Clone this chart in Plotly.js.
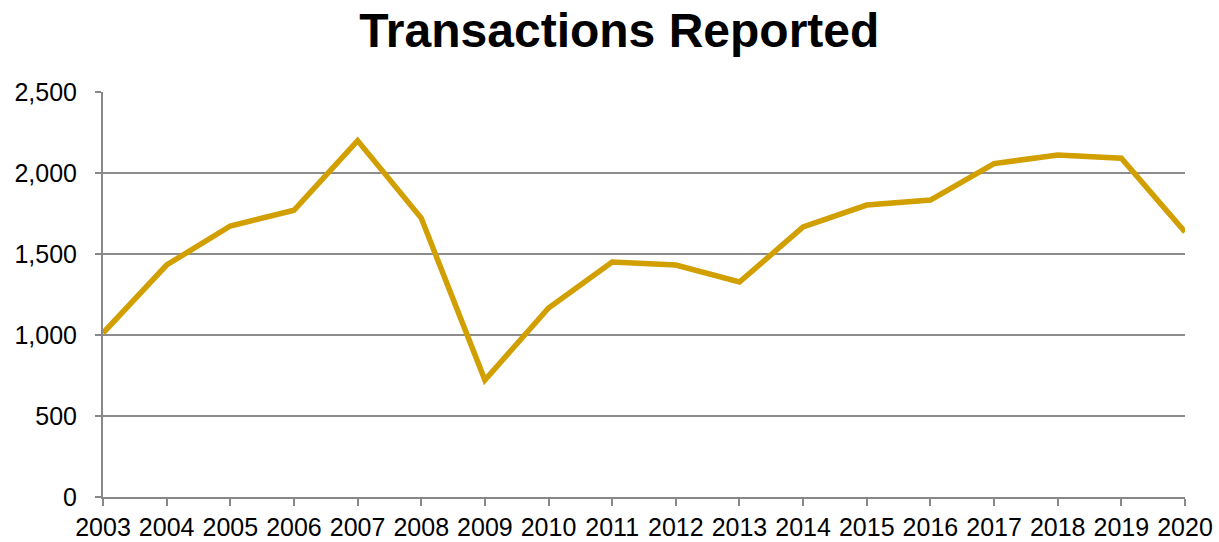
<!DOCTYPE html>
<html>
<head>
<meta charset="utf-8">
<script src="https://cdn.plot.ly/plotly-3.0.1.min.js"></script>
<style>html,body{margin:0;padding:0;background:#fff;}#chart{width:1219px;height:542px;}</style>
</head>
<body>
<div id="chart"></div>
<script>
const years = ['2003','2004','2005','2006','2007','2008','2009','2010','2011','2012','2013','2014','2015','2016','2017','2018','2019','2020'];
const transactions = [1012, 1432, 1673, 1770, 2200, 1722, 722, 1167, 1451, 1432, 1327, 1667, 1802, 1833, 2058, 2111, 2091, 1636];
const yTicks = [0, 500, 1000, 1500, 2000, 2500];
const yTickLabels = ['0', '500', '1,000', '1,500', '2,000', '2,500'];

Plotly.newPlot('chart', [{
  x: years,
  y: transactions,
  type: 'scatter',
  mode: 'lines',
  line: {color: '#D19F00', width: 5.5},
  hoverinfo: 'skip'
}], {
  width: 1219, height: 542,
  margin: {l: 103, r: 34, t: 92, b: 45},
  paper_bgcolor: '#fff', plot_bgcolor: '#fff',
  showlegend: false,
  title: {text: '<b>Transactions Reported</b>', x: 0.508, xanchor: 'center', y: 0.945, yanchor: 'middle',
          font: {family: 'Liberation Sans, Arial, sans-serif', size: 48, color: '#000'}},
  xaxis: {
    type: 'category', range: [0, years.length - 1],
    showgrid: false, showline: true, linecolor: '#888', linewidth: 2,
    ticks: 'outside', ticklen: 7, tickcolor: '#888', tickwidth: 2,
    tickfont: {family: 'Liberation Sans, Arial, sans-serif', size: 25, color: '#000'},
    zeroline: false, fixedrange: true
  },
  yaxis: {
    range: [0, 2500], tickvals: yTicks, ticktext: yTickLabels,
    showgrid: true, gridcolor: '#8c8c8c', gridwidth: 2,
    showline: true, linecolor: '#888', linewidth: 2,
    ticks: 'outside', ticklen: 6, tickcolor: '#888', tickwidth: 2,
    ticklabelstandoff: 13,
    tickfont: {family: 'Liberation Sans, Arial, sans-serif', size: 25, color: '#000'},
    zeroline: false, fixedrange: true
  }
}, {displayModeBar: false, staticPlot: true});
</script>
</body>
</html>
